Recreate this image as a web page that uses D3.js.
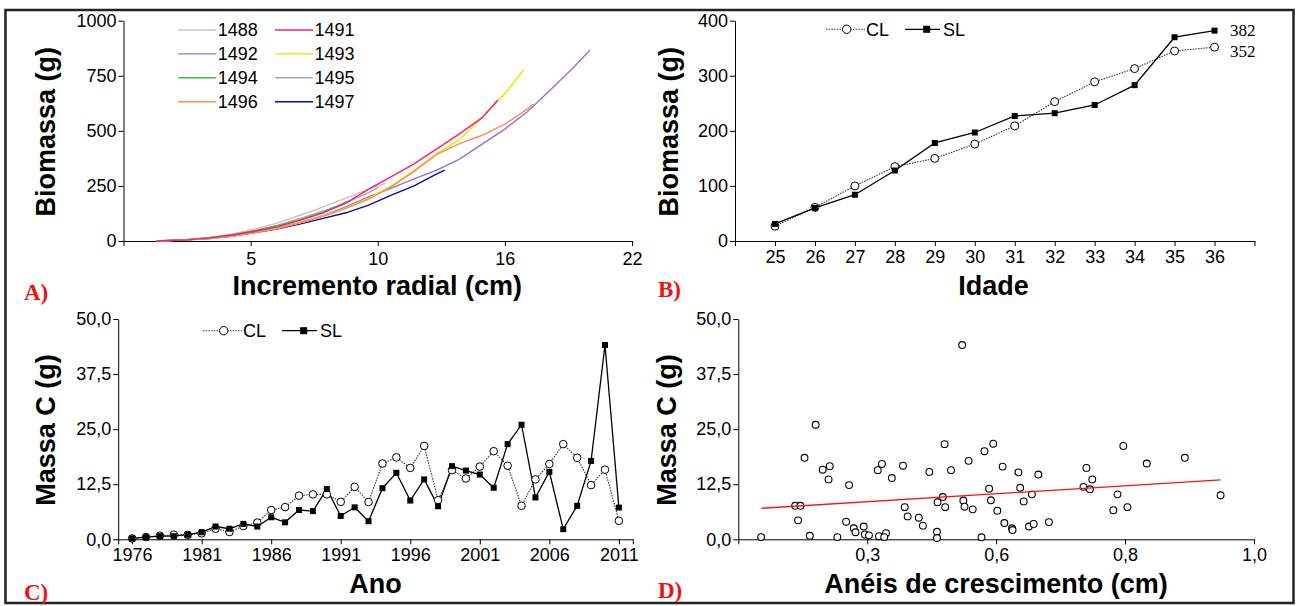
<!DOCTYPE html>
<html>
<head>
<meta charset="utf-8">
<script src="https://cdn.jsdelivr.net/npm/d3@7"></script>
<style>
  body { margin: 0; background: #fff; }
  svg text { font-family: "Liberation Sans", Arial, sans-serif; }
</style>
</head>
<body>
<svg id="fig" width="1302" height="606"></svg>
<script>
// ---------- Panel A: cumulative biomass per tree vs radial increment ----------
const treeIds = ["1488", "1491", "1492", "1493", "1494", "1495", "1496", "1497"];
const treeColors = ["#c4c4c4", "#ff1a7a", "#9370db", "#e6e600", "#33c633", "#a6a6a6", "#ff8c4d", "#0a0aa8"];
const curve1488 = [[0.66,0],[2,7],[3,17],[4,32],[5,55],[6,82],[7,118],[8,155],[9,195],[10,235],[10.73,262]];
const curve1491 = [[0.66,0],[2,5],[3,14],[4,27],[5,44],[6,65],[7,95],[8,128],[9,172],[10,235],[11,292],[12,350],[13,418],[14,486],[15,560],[15.69,640]];
const curve1492 = [[0.66,0],[2,5],[3,12],[4,23],[5,40],[6,60],[7,85],[8,115],[9,155],[10,200],[11,240],[12,282],[13,322],[14,372],[15,440],[16,508],[17,588],[18,685],[19,785],[19.75,867]];
const curve1493 = [[0.66,0],[2,5],[3,12],[4,23],[5,40],[6,58],[7,84],[8,113],[9,150],[10,194],[11,250],[12,320],[13,397],[14,460],[15,560],[16,668],[16.82,776]];
const curve1494 = [[0.66,0],[2,6],[3,15],[4,28],[5,47],[6,70],[7,97],[8,130],[9,176],[9.2,184]];
const curve1495 = [[0.66,0],[2,6],[3,15],[4,29],[5,48],[6,72],[7,102],[8,136],[9,174],[10,220],[10.44,244]];
const curve1496 = [[0.66,0],[2,5],[3,12],[4,23],[5,40],[6,58],[7,83],[8,112],[9,148],[10,190],[11,246],[12,316],[13,393],[14,442],[15,480],[16,530],[17,600],[17.25,622]];
const curve1497 = [[0.66,0],[2,5],[3,11],[4,22],[5,38],[6,55],[7,78],[8,103],[9,128],[10,163],[11,208],[12,250],[13,305],[13.35,322]];
const incrementDomain = [-0.8, 21.6];
const incrementTicks = [4.8, 10.4, 16.0, 21.6];
const biomassTicksA = [0, 250, 500, 750, 1000];

// ---------- Panel B: biomass by age, with (CL) and without (SL) ... ----------
const ages = [25, 26, 27, 28, 29, 30, 31, 32, 33, 34, 35, 36];
const biomassCL = [27, 61, 100, 135, 150, 176, 209, 253, 289, 313, 345, 352];
const biomassSL = [31, 60, 84, 128, 178, 197, 227, 232, 247, 283, 370, 382];
const ageDomain = [24, 37];
const ageTicks = [24, 25, 26, 27, 28, 29, 30, 31, 32, 33, 34, 35, 36, 37];
const biomassTicksB = [0, 100, 200, 300, 400];

// ---------- Panel C: carbon mass per year ----------
const calendarYears = [1976,1977,1978,1979,1980,1981,1982,1983,1984,1985,1986,1987,1988,1989,1990,1991,1992,1993,
  1994,1995,1996,1997,1998,1999,2000,2001,2002,2003,2004,2005,2006,2007,2008,2009,2010,2011];
const carbonCL = [0.2,0.5,0.8,1.05,1.0,1.35,2.4,1.65,3.0,3.8,6.65,7.3,9.9,10.2,10.2,8.5,11.9,8.45,
  17.2,18.6,16.2,21.2,8.9,15.7,13.8,16.5,20.0,16.7,7.6,13.6,17.1,21.6,18.5,12.3,15.8,4.2];
const carbonSL = [0.2,0.5,0.7,0.7,1.05,1.6,2.9,2.4,3.5,2.9,5.0,3.85,6.65,6.4,11.4,5.3,7.25,4.1,
  11.6,15.1,8.8,13.6,7.5,16.6,15.6,14.7,11.7,21.6,26.0,9.5,15.3,2.3,7.6,17.8,44.1,7.2];
const yearDomain = [1975, 2012];
const yearTicks = [1975, 1976, 1981, 1986, 1991, 1996, 2001, 2006, 2011, 2012];
const carbonTicks = [0, 12.5, 25, 37.5, 50];

// ---------- Panel D: carbon mass vs growth-ring width ----------
const ringWidth = [0.159,0.217,0.226,0.222,0.233,0.242,0.252,0.264,0.276,0.274,0.289,0.309,0.304,0.317,0.320,0.334,
  0.336,0.343,0.360,0.372,0.369,0.358,0.365,0.382,0.401,0.404,0.409,0.428,0.435,0.446,0.459,0.459,0.460,0.469,
  0.473,0.472,0.483,0.513,0.504,0.506,0.520,0.535,0.540,0.555,0.548,0.551,0.562,0.571,0.574,0.587,0.588,0.598,
  0.601,0.607,0.621,0.616,0.624,0.632,0.650,0.709,0.720,0.714,0.724,0.760,0.767,0.777,0.784,0.817,0.882,0.943,0.502];
const ringCarbon = [0.5,7.6,7.6,4.3,18.5,0.8,26.0,15.8,16.6,13.6,0.5,12.3,4.0,2.5,1.6,2.9,
  1.1,0.9,0.7,1.4,0.5,15.7,17.1,13.9,16.7,7.3,5.2,4.9,3.1,15.3,1.7,0.3,8.4,9.6,
  7.3,21.6,15.7,17.8,8.8,7.4,6.8,0.45,20.0,21.7,11.5,8.85,6.5,16.5,3.7,2.5,2.1,15.2,
  11.7,8.6,10.2,2.9,3.5,14.7,3.9,11.9,11.35,16.2,13.6,6.6,10.2,21.2,7.3,17.2,18.5,10.0,44.1];
const ringDomain = [0.12, 1.0];
const ringTicks = [0.12, 0.34, 0.56, 0.78, 1.0];
const trendIntercept = 5.72;
const trendSlope = 8.24;

const svg = d3.select("#fig");
const TICK_FONT = 18;
const comma1 = d => d3.format(".1f")(d).replace(".", ",");

// outer frame
svg.append("rect")
  .attr("x", 5.5).attr("y", 10).attr("width", 1288).attr("height", 593)
  .attr("fill", "none").attr("stroke", "#222").attr("stroke-width", 2.5);

function styleAxis(g) {
  g.attr("font-family", "Liberation Sans, Arial, sans-serif").attr("font-size", TICK_FONT);
  g.selectAll("text").attr("fill", "#000");
  g.selectAll("line").attr("stroke", "#000");
  g.select(".domain").attr("stroke", "#000");
}

function drawYAxis(scale, x, ticks, fmt) {
  const g = svg.append("g").attr("transform", `translate(${x},0)`)
    .call(d3.axisLeft(scale).tickValues(ticks).tickFormat(fmt).tickSize(5).tickPadding(2).tickSizeOuter(0));
  styleAxis(g);
}

function drawXAxis(scale, y, ticks, fmt, pad) {
  const g = svg.append("g").attr("transform", `translate(0,${y})`)
    .call(d3.axisBottom(scale).tickValues(ticks).tickFormat(fmt).tickSize(5).tickPadding(pad).tickSizeOuter(0));
  styleAxis(g);
}

function yTitle(text, x, cy) {
  svg.append("text").attr("transform", `translate(${x},${cy}) rotate(-90)`)
    .attr("text-anchor", "middle").attr("font-size", 27).attr("font-weight", "bold").text(text);
}
function xTitle(text, cx, y) {
  svg.append("text").attr("x", cx).attr("y", y)
    .attr("text-anchor", "middle").attr("font-size", 27).attr("font-weight", "bold").text(text);
}
function panelTag(text, x, y) {
  svg.append("text").attr("x", x).attr("y", y)
    .style("font-family", "'Liberation Serif', 'Times New Roman', serif")
    .attr("font-size", 23).attr("font-weight", "bold").attr("fill", "#ee1111").text(text);
}

// ================= Panel A =================
const xA = d3.scaleLinear().domain(incrementDomain).range([123.5, 632]);
const yA = d3.scaleLinear().domain([0, 1000]).range([241, 20.7]);
drawXAxis(xA, 241, [incrementDomain[0], ...incrementTicks], (d, i) => i === 0 ? "" : d3.format(".0f")(d), 6);
drawYAxis(yA, 123.5, biomassTicksA, d3.format("d"));

const curvesById = {
  "1488": curve1488, "1491": curve1491, "1492": curve1492, "1493": curve1493,
  "1494": curve1494, "1495": curve1495, "1496": curve1496, "1497": curve1497
};
const colorById = {};
treeIds.forEach((id, i) => colorById[id] = treeColors[i]);
const lineA = d3.line().x(d => xA(d[0])).y(d => yA(d[1]));
["1488", "1495", "1494", "1497", "1492", "1493", "1496", "1491"].forEach(id => {
  svg.append("path").attr("d", lineA(curvesById[id]))
    .attr("fill", "none").attr("stroke", colorById[id]).attr("stroke-width", 1.4);
});

// legend in two columns
treeIds.forEach((id, i) => {
  const col = i % 2, row = Math.floor(i / 2);
  const lx = col === 0 ? 178.3 : 275;
  const ly = 30 + row * 23.9;
  svg.append("line").attr("x1", lx).attr("x2", lx + 38).attr("y1", ly).attr("y2", ly)
    .attr("stroke", colorById[id]).attr("stroke-width", 1.4);
  svg.append("text").attr("x", lx + 39.5).attr("y", ly).attr("dy", "0.35em")
    .attr("font-size", 18).text(id);
});
yTitle("Biomassa (g)", 55, 131.7);
xTitle("Incremento radial (cm)", 377.3, 295);
panelTag("A)", 24, 300);

// ================= Panel B =================
const xB = d3.scaleLinear().domain(ageDomain).range([735, 1254.5]);
const yB = d3.scaleLinear().domain([0, 400]).range([241, 20.7]);
drawXAxis(xB, 241, ageTicks, d => (d === ageDomain[0] || d === ageDomain[1]) ? "" : d, 4);
drawYAxis(yB, 735, biomassTicksB, d3.format("d"));

function drawPair(xs, xScale, yScale, cl, sl, r, sq) {
  const line = d3.line().x((d, i) => xScale(xs[i])).y(d => yScale(d));
  svg.append("path").attr("d", line(cl)).attr("fill", "none")
    .attr("stroke", "#333").attr("stroke-width", 1.1).attr("stroke-dasharray", "1.5,1.2");
  svg.append("path").attr("d", line(sl)).attr("fill", "none")
    .attr("stroke", "#000").attr("stroke-width", 1.3);
  svg.append("g").selectAll("circle").data(cl).join("circle")
    .attr("cx", (d, i) => xScale(xs[i])).attr("cy", d => yScale(d)).attr("r", r)
    .attr("fill", "#fff").attr("stroke", "#000").attr("stroke-width", 1);
  svg.append("g").selectAll("rect").data(sl).join("rect")
    .attr("x", (d, i) => xScale(xs[i]) - sq / 2).attr("y", d => yScale(d) - sq / 2)
    .attr("width", sq).attr("height", sq).attr("fill", "#000");
}
drawPair(ages, xB, yB, biomassCL, biomassSL, 4, 6);

function pairLegend(x0, y0) {
  svg.append("line").attr("x1", x0).attr("x2", x0 + 39).attr("y1", y0).attr("y2", y0)
    .attr("stroke", "#333").attr("stroke-width", 1.1).attr("stroke-dasharray", "1.5,1.2");
  svg.append("circle").attr("cx", x0 + 20.7).attr("cy", y0).attr("r", 4.2)
    .attr("fill", "#fff").attr("stroke", "#000");
  svg.append("text").attr("x", x0 + 40).attr("y", y0).attr("dy", "0.35em").attr("font-size", 18).text("CL");
  svg.append("line").attr("x1", x0 + 79).attr("x2", x0 + 114).attr("y1", y0).attr("y2", y0)
    .attr("stroke", "#000").attr("stroke-width", 1.3);
  svg.append("rect").attr("x", x0 + 100.7 - 3.5).attr("y", y0 - 3.5).attr("width", 7).attr("height", 7).attr("fill", "#000");
  svg.append("text").attr("x", x0 + 117).attr("y", y0).attr("dy", "0.35em").attr("font-size", 18).text("SL");
}
pairLegend(826, 29.3);

// end-value labels
const lastSL = biomassSL[biomassSL.length - 1];
const lastCL = biomassCL[biomassCL.length - 1];
svg.append("text").attr("x", 1230).attr("y", 36)
  .style("font-family", "'Liberation Serif', 'Times New Roman', serif").attr("font-size", 17).text(lastSL);
svg.append("text").attr("x", 1230).attr("y", 56.7)
  .style("font-family", "'Liberation Serif', 'Times New Roman', serif").attr("font-size", 17).text(lastCL);

yTitle("Biomassa (g)", 677.5, 131.7);
xTitle("Idade", 993.6, 295);
panelTag("B)", 658, 297);

// ================= Panel C =================
const xC = d3.scaleLinear().domain(yearDomain).range([118.2, 632.8]);
const yC = d3.scaleLinear().domain([0, 50]).range([539.3, 319]);
drawXAxis(xC, 539.3, yearTicks, d => (d === yearDomain[0] || d === yearDomain[1]) ? "" : d, 4);
drawYAxis(yC, 118.2, carbonTicks, comma1);
drawPair(calendarYears, xC, yC, carbonCL, carbonSL, 3.8, 6);
pairLegend(203, 330.7);
yTitle("Massa C (g)", 54.6, 430);
xTitle("Ano", 375.5, 593);
panelTag("C)", 24, 600);

// ================= Panel D =================
const xD = d3.scaleLinear().domain(ringDomain).range([738.3, 1254]);
const yD = d3.scaleLinear().domain([0, 50]).range([539.3, 319]);
drawXAxis(xD, 539.3, ringTicks, (d, i) => i === 0 ? "" : comma1(d), 4);
drawYAxis(yD, 738.3, carbonTicks, comma1);

svg.append("g").selectAll("circle").data(ringWidth).join("circle")
  .attr("cx", d => xD(d)).attr("cy", (d, i) => yD(ringCarbon[i])).attr("r", 3.4)
  .attr("fill", "#fff").attr("stroke", "#000").attr("stroke-width", 1.1);

const [wMin, wMax] = d3.extent(ringWidth);
svg.append("line")
  .attr("x1", xD(wMin)).attr("y1", yD(trendIntercept + trendSlope * wMin))
  .attr("x2", xD(wMax)).attr("y2", yD(trendIntercept + trendSlope * wMax))
  .attr("stroke", "#ff1010").attr("stroke-width", 1.3);

yTitle("Massa C (g)", 675.6, 430);
xTitle("Anéis de crescimento (cm)", 996, 593);
panelTag("D)", 658, 598);
</script>
</body>
</html>
